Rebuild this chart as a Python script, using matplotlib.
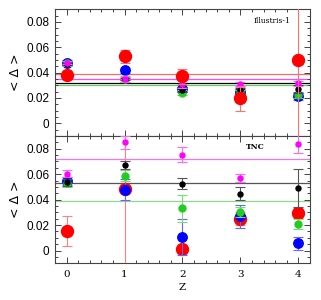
import matplotlib
matplotlib.use("Agg")
import matplotlib.pyplot as plt
from matplotlib.ticker import MultipleLocator

z = [0, 1, 2, 3, 4]

# Illustris-1 (top panel)
ill_red = [0.0385, 0.0528, 0.0370, 0.0198, 0.0499]
ill_red_err = [0.002, 0.005, 0.006, 0.010, 0.2]
ill_blue = [0.0480, 0.0417, 0.0270, 0.0250, 0.0216]
ill_blue_err = [0.002, 0.002, 0.002, 0.002, 0.003]
ill_green = [0.0475, 0.0348, 0.0243, 0.0245, 0.0220]
ill_green_err = [0.002, 0.002, 0.002, 0.002, 0.002]
ill_black = [0.0470, 0.0350, 0.0265, 0.0262, 0.0270]
ill_black_err = [0.001, 0.001, 0.002, 0.002, 0.003]
ill_mag = [0.0478, 0.0350, 0.0310, 0.0310, 0.0317]
ill_mag_err = [0.001, 0.002, 0.003, 0.002, 0.002]
ill_lines = {"red": 0.0390, "magenta": 0.0348, "black": 0.0322, "green": 0.0306}

# TNC (bottom panel)
tnc_red = [0.0155, 0.0484, 0.0011, 0.0250, 0.0295]
tnc_red_err = [0.012, 0.2, 0.002, 0.005, 0.004]
tnc_blue = [0.0544, 0.0479, 0.0106, 0.0268, 0.0058]
tnc_blue_err = [0.003, 0.008, 0.014, 0.009, 0.005]
tnc_green = [0.0530, 0.0589, 0.0334, 0.0300, 0.0208]
tnc_green_err = [0.003, 0.004, 0.0106, 0.004, 0.004]
tnc_black = [0.0536, 0.0673, 0.0526, 0.0447, 0.0489]
tnc_black_err = [0.003, 0.003, 0.0045, 0.005, 0.015]
tnc_mag = [0.0605, 0.0850, 0.0752, 0.0568, 0.0841]
tnc_mag_err = [0.003, 0.005, 0.006, 0.003, 0.0073]
tnc_lines = {"magenta": 0.0720, "black": 0.0531, "green": 0.0390}

fig = plt.figure(figsize=(3.21, 3.0), dpi=100)
ax1 = fig.add_axes([0.1713, 0.5467, 0.7944, 0.4223])
ax2 = fig.add_axes([0.1713, 0.1223, 0.7944, 0.4244])

RED, BLUE, GREEN, MAG, BLK = "#ff0000", "#0000ff", "#22cc22", "#ff00ff", "#000000"

def pts(ax, y, err, color, ecolor, ms, zo):
    ax.errorbar(z, y, yerr=err, fmt="o", color=color, ecolor=ecolor, ms=ms,
                mec=color, elinewidth=0.8, capsize=3.6, capthick=0.8, zorder=zo)

# top
ax1.axhline(ill_lines["red"], color="#ff6868", lw=0.9, zorder=1)
ax1.axhline(ill_lines["magenta"], color="#ff44ff", lw=0.9, zorder=1)
ax1.axhline(ill_lines["black"], color="#000000", lw=0.9, zorder=1)
ax1.axhline(ill_lines["green"], color="#66cc66", lw=0.9, zorder=1)
pts(ax1, ill_blue, ill_blue_err, BLUE, "#6666ff", 6.8, 3)
pts(ax1, ill_green, ill_green_err, GREEN, "#66cc66", 5.0, 4)
pts(ax1, ill_black, ill_black_err, BLK, "#444444", 3.6, 5)
pts(ax1, ill_mag, ill_mag_err, MAG, "#ff66ff", 3.6, 6)
pts(ax1, ill_red, ill_red_err, RED, "#ff7070", 8.6, 7)

# bottom
ax2.axhline(tnc_lines["magenta"], color="#ee77ee", lw=0.9, zorder=1)
ax2.axhline(tnc_lines["black"], color="#555555", lw=0.9, zorder=1)
ax2.axhline(tnc_lines["green"], color="#88dd88", lw=0.9, zorder=1)
pts(ax2, tnc_red, tnc_red_err, RED, "#ff8080", 8.6, 3)
pts(ax2, tnc_blue, tnc_blue_err, BLUE, "#6666ff", 6.8, 4)
pts(ax2, tnc_green, tnc_green_err, GREEN, "#77dd77", 5.0, 5)
pts(ax2, tnc_black, tnc_black_err, BLK, "#555555", 3.6, 6)
pts(ax2, tnc_mag, tnc_mag_err, MAG, "#ff66ff", 3.6, 7)

for ax in (ax1, ax2):
    ax.set_xlim(-0.2, 4.2)
    ax.set_ylim(-0.01, 0.09)
    ax.xaxis.set_major_locator(MultipleLocator(1))
    ax.xaxis.set_minor_locator(MultipleLocator(0.2))
    ax.yaxis.set_major_locator(MultipleLocator(0.02))
    ax.yaxis.set_minor_locator(MultipleLocator(0.005))
    ax.tick_params(which="both", direction="in", top=True, right=True, width=0.7, color="#444444")
    ax.tick_params(which="major", length=4.3)
    ax.tick_params(which="minor", length=2.2)
    for s in ax.spines.values():
        s.set_linewidth(0.8)
        s.set_color("#444444")
    ax.set_yticks([0, 0.02, 0.04, 0.06, 0.08])
    ax.set_yticklabels(["0", "0.02", "0.04", "0.06", "0.08"], family="Liberation Sans", fontsize=8.5)
    ax.set_ylabel("< \u0394 >", family="DejaVu Sans", fontsize=9, labelpad=3)
    ax.tick_params(axis="y", pad=4)

ax1.tick_params(axis="x", labelbottom=False)
ax2.set_xticks(z)
ax2.set_xticklabels([str(v) for v in z], family="DejaVu Serif", fontsize=7.5)
ax2.tick_params(axis="x", pad=5)
ax2.set_xlabel("Z", family="DejaVu Serif", fontsize=7.5, labelpad=3)

ax1.text(0.925, 0.91, "Illustris-1", transform=ax1.transAxes, ha="right", va="center",
         family="DejaVu Serif", fontsize=5.5)
ax2.text(0.784, 0.915, "TNC", transform=ax2.transAxes, ha="center", va="center",
         family="DejaVu Serif", fontsize=5.5, fontweight="bold")

fig.savefig("out.png", dpi=100)
